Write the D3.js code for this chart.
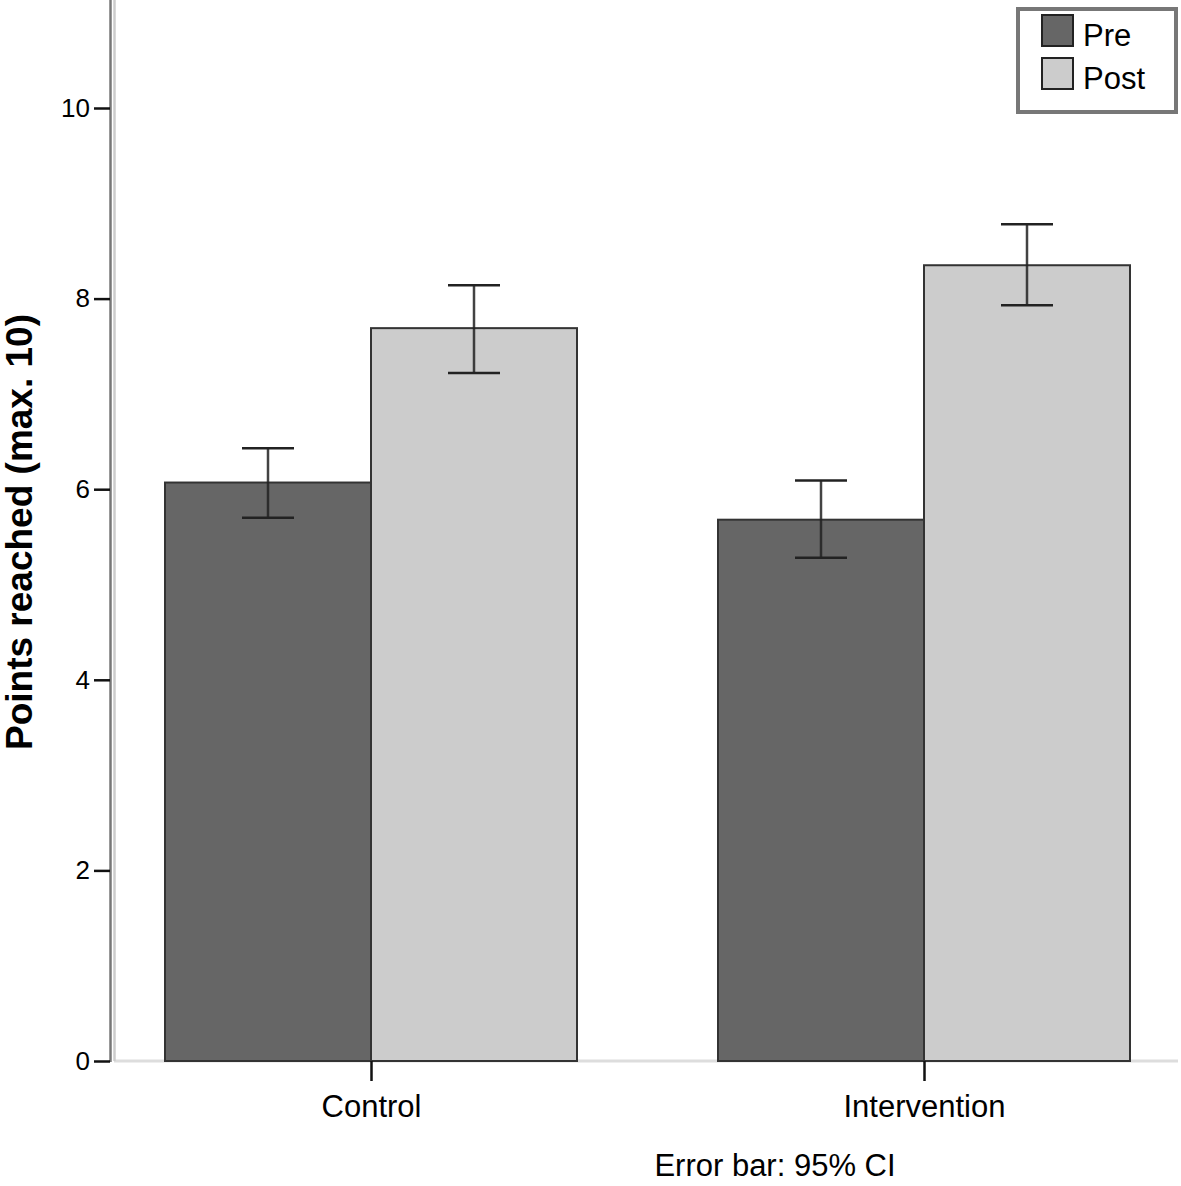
<!DOCTYPE html>
<html>
<head>
<meta charset="utf-8">
<script src="https://cdn.jsdelivr.net/npm/d3@7"></script>
<style>
  html, body { margin: 0; padding: 0; background: #fff; }
  svg { display: block; font-family: "Liberation Sans", Arial, sans-serif; }
</style>
</head>
<body>
<svg id="chart" width="1181" height="1186"></svg>
<script>
// ---- data ----
const categories = ["Control", "Intervention"];
const seriesNames = ["Pre", "Post"];
const preMeans  = [6.07, 5.68];
const postMeans = [7.69, 8.35];
const preLower  = [5.70, 5.28];
const preUpper  = [6.43, 6.09];
const postLower = [7.22, 7.93];
const postUpper = [8.14, 8.78];
const yTicks = [0, 2, 4, 6, 8, 10];
const yTitle = "Points reached (max. 10)";
const footnote = "Error bar: 95% CI";

const seriesColors = { Pre: "#666666", Post: "#cccccc" };

const rows = [];
categories.forEach((c, i) => {
  rows.push({ cat: c, s: "Pre", v: preMeans[i], lo: preLower[i], hi: preUpper[i] });
  rows.push({ cat: c, s: "Post", v: postMeans[i], lo: postLower[i], hi: postUpper[i] });
});

const svg = d3.select("#chart");

const y = d3.scaleLinear().domain([0, 10]).range([1061, 108]);
const xCat = d3.scalePoint().domain(categories).range([371, 924]);
const xSub = d3.scaleBand().domain(seriesNames).range([-206, 206]);

// baseline (light)
svg.append("line")
  .attr("x1", 114).attr("x2", 1178)
  .attr("y1", y(0)).attr("y2", y(0))
  .attr("stroke", "#dddddd").attr("stroke-width", 3);

// bars
svg.append("g").selectAll("rect").data(rows).join("rect")
  .attr("x", d => xCat(d.cat) + xSub(d.s))
  .attr("width", xSub.bandwidth())
  .attr("y", d => y(d.v))
  .attr("height", d => y(0) - y(d.v))
  .attr("fill", d => seriesColors[d.s])
  .attr("stroke", "#333333")
  .attr("stroke-width", 2);

// error bars
const capHalf = 26;
const eb = svg.append("g").attr("stroke", "#222222").attr("stroke-width", 2.5);
rows.forEach(d => {
  const cx = xCat(d.cat) + xSub(d.s) + xSub.bandwidth() / 2;
  eb.append("line").attr("x1", cx).attr("x2", cx).attr("y1", y(d.hi)).attr("y2", y(d.lo)).attr("stroke-opacity", 0.85);
  eb.append("line").attr("x1", cx - capHalf).attr("x2", cx + capHalf).attr("y1", y(d.hi)).attr("y2", y(d.hi));
  eb.append("line").attr("x1", cx - capHalf).attr("x2", cx + capHalf).attr("y1", y(d.lo)).attr("y2", y(d.lo));
});

// y axis double line
svg.append("line").attr("x1", 110.5).attr("x2", 110.5).attr("y1", 0).attr("y2", y(0) + 1)
  .attr("stroke", "#777777").attr("stroke-width", 2.5);
svg.append("line").attr("x1", 114.5).attr("x2", 114.5).attr("y1", 0).attr("y2", y(0))
  .attr("stroke", "#cccccc").attr("stroke-width", 2.5);

// y axis ticks + labels
const yAxis = d3.axisLeft(y).tickValues(yTicks).tickSize(16).tickPadding(4).tickFormat(d3.format("d"));
const gy = svg.append("g").attr("transform", "translate(110,0)").call(yAxis);
gy.select(".domain").remove();
gy.selectAll(".tick line").attr("stroke", "#111").attr("stroke-width", 2.5);
gy.selectAll(".tick text").attr("font-size", 26).attr("fill", "#000")
  .attr("font-family", "'Liberation Sans', Arial, sans-serif");

// x axis ticks + labels
const xAxis = d3.axisBottom(xCat).tickSize(20).tickPadding(14);
const gx = svg.append("g").attr("transform", `translate(0,${y(0)})`).call(xAxis);
gx.select(".domain").remove();
gx.selectAll(".tick line").attr("stroke", "#111").attr("stroke-width", 2.5);
gx.selectAll(".tick text").attr("font-size", 31).attr("fill", "#000")
  .attr("font-family", "'Liberation Sans', Arial, sans-serif");

// y title
svg.append("text")
  .attr("transform", `translate(32,${532}) rotate(-90)`)
  .attr("text-anchor", "middle")
  .attr("font-size", 37).attr("font-weight", "bold").attr("fill", "#000")
  .text(yTitle);

// footnote
svg.append("text")
  .attr("x", 775).attr("y", 1176)
  .attr("text-anchor", "middle")
  .attr("font-size", 31).attr("fill", "#000")
  .text(footnote);

// legend
const lg = svg.append("g");
lg.append("rect").attr("x", 1018).attr("y", 9).attr("width", 158).attr("height", 103)
  .attr("fill", "#fff").attr("stroke", "#777777").attr("stroke-width", 4);
seriesNames.forEach((s, i) => {
  const yy = 15 + i * 43;
  lg.append("rect").attr("x", 1042).attr("y", yy).attr("width", 31).attr("height", 31)
    .attr("fill", seriesColors[s]).attr("stroke", "#222").attr("stroke-width", 2);
  lg.append("text").attr("x", 1083).attr("y", yy + 31)
    .attr("font-size", 31).attr("fill", "#000").text(s);
});
</script>
</body>
</html>
